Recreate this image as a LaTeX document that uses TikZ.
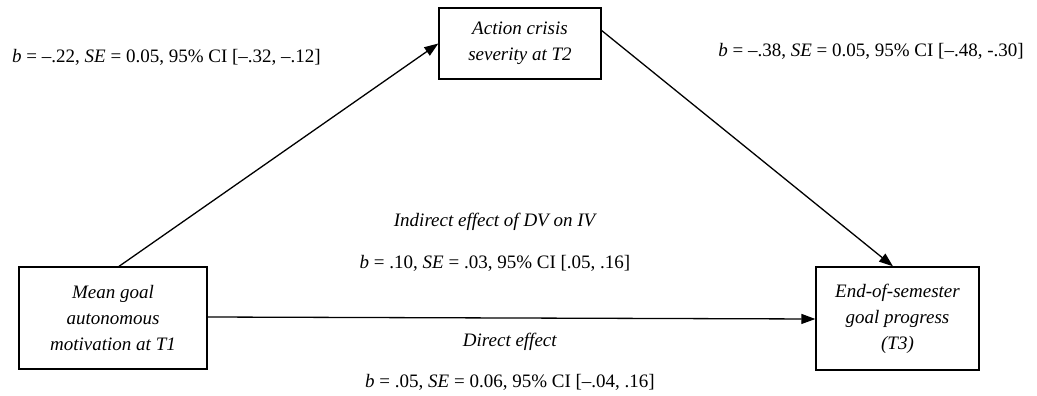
\documentclass[tikz,border=0pt]{standalone}
\usepackage{fontspec}
\setmainfont{Liberation Serif}
\usetikzlibrary{arrows.meta}
\begin{document}
\begin{tikzpicture}[x=1pt,y=-1pt,
  font=\fontsize{19}{26}\selectfont,
  box/.style={draw, line width=1.3pt, inner sep=0pt, align=center, font=\fontsize{19}{26}\selectfont\itshape},
  lbl/.style={inner sep=0pt, align=center},
  arr/.style={line width=1.3pt, -{Triangle[length=14pt,width=10pt]}}]
\useasboundingbox (0,0) rectangle (1037,396);
\node[box, minimum width=162pt, minimum height=71pt] (act) at (520,43.5) {Action crisis\\severity at T2};
\node[box, minimum width=188pt, minimum height=102pt] (mean) at (113,318) {Mean goal\\autonomous\\motivation at T1};
\node[box, minimum width=163pt, minimum height=103pt] (end) at (897.5,318.5) {End-of-semester\\goal progress\\(T3)};
\draw[arr] ([xshift=6pt]mean.north) -- (act.west);
\draw[arr] ([yshift=13pt]act.east) -- ([xshift=-4.5pt]end.north);
\draw[arr] ([yshift=1pt]mean.east) -- ([yshift=-0.5pt]end.west);
\node[lbl] (la) at (166.5,57) {\textit{b} = –.22, \textit{SE} = 0.05, 95\% CI [–.32, –.12]};
\node[lbl] (lb) at (871,51) {\textit{b} = –.38, \textit{SE} = 0.05, 95\% CI [–.48, -.30]};
\node[lbl] (li) at (495.5,222) {\textit{Indirect effect of DV on IV}};
\node[lbl] (lib) at (495,263) {\textit{b} = .10, \textit{SE} = .03, 95\% CI [.05, .16]};
\node[lbl] (ld) at (510,342) {\textit{Direct effect}};
\node[lbl] (ldb) at (510,382) {\textit{b} = .05, \textit{SE} = 0.06, 95\% CI [–.04, .16]};
\end{tikzpicture}
\end{document}
